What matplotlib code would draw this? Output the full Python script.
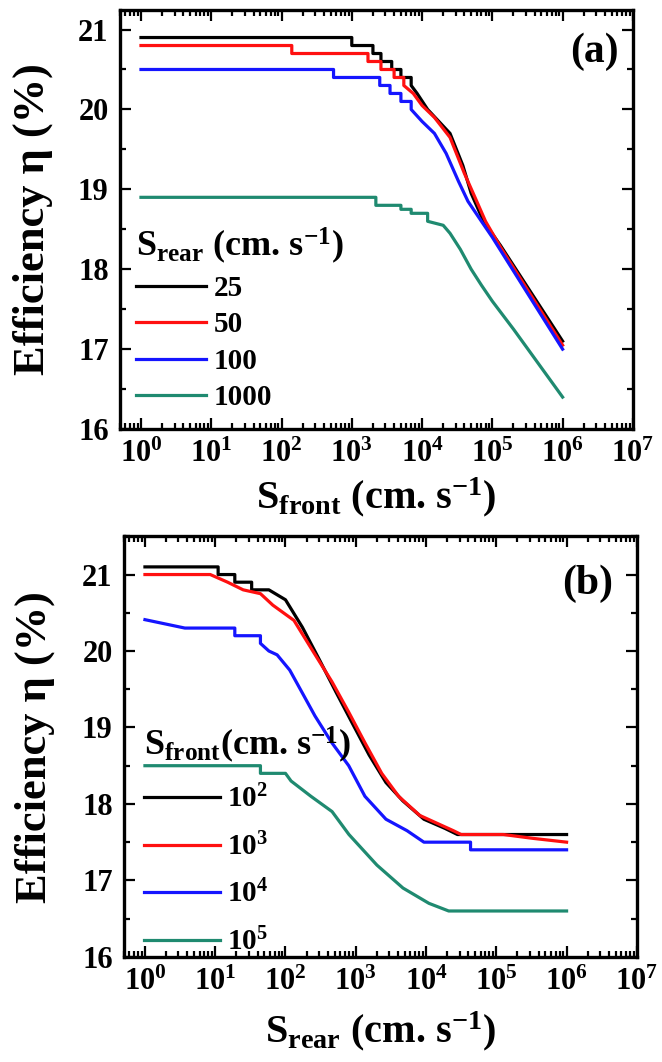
import matplotlib
matplotlib.use("Agg")
import matplotlib.pyplot as plt
from matplotlib.ticker import MultipleLocator, LogLocator, NullFormatter

plt.rcParams["font.family"] = "Liberation Serif"
plt.rcParams["font.weight"] = "bold"
plt.rcParams["mathtext.fontset"] = "custom"
plt.rcParams["mathtext.rm"] = "Liberation Serif:bold"
plt.rcParams["mathtext.bf"] = "Liberation Serif:bold"
plt.rcParams["mathtext.it"] = "Liberation Serif:italic:bold"

# ---- panel (a): efficiency vs S_front, for several S_rear ----
a_labels = ["25", "50", "100", "1000"]
a_x25 = [1, 1000, 1000, 2000, 2000, 2600, 2600, 3700, 3700, 5000, 5000, 7000, 7000,
         8500, 12000, 25000, 38000, 50000, 75000, 130000, 1000000]
a_y25 = [20.9, 20.9, 20.8, 20.8, 20.7, 20.7, 20.6, 20.6, 20.5, 20.5, 20.4, 20.4, 20.3,
         20.2, 20.0, 19.7, 19.3, 18.95, 18.6, 18.3, 17.1]
a_x50 = [1, 140, 140, 1700, 1700, 2600, 2600, 4000, 4000, 5500, 5500, 7500, 10000,
         15000, 25000, 40000, 60000, 80000, 130000, 1000000]
a_y50 = [20.8, 20.8, 20.7, 20.7, 20.6, 20.6, 20.5, 20.5, 20.4, 20.4, 20.3, 20.2, 20.05,
         19.9, 19.65, 19.2, 18.85, 18.6, 18.28, 17.05]
a_x100 = [1, 550, 550, 2500, 2500, 3500, 3500, 5000, 5000, 7000, 7000, 10000, 15000,
          22000, 33000, 45000, 70000, 100000, 1000000]
a_y100 = [20.5, 20.5, 20.4, 20.4, 20.3, 20.3, 20.2, 20.2, 20.1, 20.1, 20.0, 19.85, 19.7,
          19.45, 19.1, 18.85, 18.6, 18.4, 17.0]
a_x1000 = [1, 2200, 2200, 5000, 5000, 7000, 7000, 12000, 12000, 20000, 25000, 35000,
           50000, 70000, 100000, 200000, 1000000]
a_y1000 = [18.9, 18.9, 18.8, 18.8, 18.75, 18.75, 18.7, 18.7, 18.6, 18.55, 18.45, 18.25,
           18.0, 17.8, 17.6, 17.25, 16.4]

# ---- panel (b): efficiency vs S_rear, for several S_front ----
b_labels = [r"$\mathbf{10^{2}}$", r"$\mathbf{10^{3}}$", r"$\mathbf{10^{4}}$", r"$\mathbf{10^{5}}$"]
b_x2 = [1, 11, 11, 19, 19, 33, 33, 58, 100, 174, 302, 525, 912, 1550, 2690, 4680,
        9330, 18600, 28000, 1000000]
b_y2 = [21.1, 21.1, 21.0, 21.0, 20.9, 20.9, 20.8, 20.8, 20.67, 20.31, 19.89, 19.46,
        19.04, 18.64, 18.28, 18.04, 17.8, 17.68, 17.6, 17.6]
b_x3 = [1, 8.5, 15, 25, 44, 66, 132, 245, 457, 794, 1350, 2340, 4070, 8130, 14100,
        24500, 31600, 126000, 331000, 1000000]
b_y3 = [21.0, 21.0, 20.9, 20.8, 20.75, 20.6, 20.4, 20.0, 19.6, 19.2, 18.8, 18.4, 18.1,
        17.85, 17.75, 17.65, 17.6, 17.6, 17.55, 17.5]
b_x4 = [1, 3.7, 19, 19, 44, 44, 58, 76, 115, 174, 263, 457, 794, 1350, 2690, 5370,
        9330, 15100, 43000, 43000, 1000000]
b_y4 = [20.41, 20.3, 20.3, 20.2, 20.2, 20.1, 20.0, 19.95, 19.75, 19.45, 19.15, 18.8,
        18.5, 18.1, 17.8, 17.65, 17.5, 17.5, 17.5, 17.4, 17.4]
b_x5 = [1, 44, 44, 100, 120, 230, 460, 800, 2000, 4700, 11000, 21000, 1000000]
b_y5 = [18.5, 18.5, 18.4, 18.4, 18.3, 18.1, 17.9, 17.6, 17.2, 16.9, 16.7, 16.6, 16.6]

colors = ["#000000", "#ff1010", "#1515ff", "#1f8a70"]
xticks = [1e0, 1e1, 1e2, 1e3, 1e4, 1e5, 1e6, 1e7]
xticklabels = [r"$\mathbf{10^{%d}}$" % i for i in range(8)]

fig = plt.figure(figsize=(6.62, 10.62), dpi=100)
fig.patch.set_facecolor("white")
ax_a = fig.add_axes([0.181, 0.596, 0.775, 0.395])
ax_b = fig.add_axes([0.187, 0.099, 0.775, 0.396])


def style_axes(ax, ylim):
    ax.set_xscale("log")
    ax.set_xlim(0.5, 1e7)
    ax.set_ylim(*ylim)
    ax.set_xticks(xticks, labels=xticklabels)
    ax.xaxis.set_minor_locator(LogLocator(base=10, subs=range(2, 10), numticks=20))
    ax.xaxis.set_minor_formatter(NullFormatter())
    ax.set_yticks([16, 17, 18, 19, 20, 21])
    ax.yaxis.set_minor_locator(MultipleLocator(0.5))
    ax.tick_params(which="both", direction="in", top=True, right=True, labelsize=22, width=1.6)
    ax.tick_params(which="major", length=8, pad=8)
    ax.tick_params(which="minor", length=4)
    for sp in ax.spines.values():
        sp.set_linewidth(2.4)


# panel (a)
for xs, ys, c, lab in zip([a_x25, a_x50, a_x100, a_x1000], [a_y25, a_y50, a_y100, a_y1000],
                          colors, a_labels):
    ax_a.plot(xs, ys, color=c, lw=2.3, label=lab)
style_axes(ax_a, (16, 21.25))
ax_a.set_ylabel(r"Efficiency η (%)", fontsize=32, fontweight="bold")
ax_a.yaxis.set_label_coords(-0.13, 0.5)
ax_a.set_xlabel(r"$\mathbf{S_{front}}$ (cm. s$^{\mathbf{-1}}$)", fontsize=29, fontweight="bold")
ax_a.xaxis.set_label_coords(0.5, -0.11)
ax_a.text(0.925, 0.9, "(a)", transform=ax_a.transAxes, fontsize=30, fontweight="bold",
          ha="center", va="center")
leg_a = ax_a.legend(loc="upper left", bbox_to_anchor=(0.012, 0.51), frameon=False,
                    fontsize=21, title=r"$\mathbf{S_{rear}}$ (cm. s$^{\mathbf{-1}}$)",
                    title_fontsize=26, alignment="left", handlelength=2.4,
                    handletextpad=0.25, labelspacing=0.32, borderpad=0.35, borderaxespad=0)

# panel (b)
for xs, ys, c, lab in zip([b_x2, b_x3, b_x4, b_x5], [b_y2, b_y3, b_y4, b_y5], colors, b_labels):
    ax_b.plot(xs, ys, color=c, lw=2.3, label=lab)
style_axes(ax_b, (16, 21.5))
ax_b.set_ylabel(r"Efficiency η (%)", fontsize=32, fontweight="bold")
ax_b.yaxis.set_label_coords(-0.135, 0.5)
ax_b.set_xlabel(r"$\mathbf{S_{rear}}$ (cm. s$^{\mathbf{-1}}$)", fontsize=29, fontweight="bold")
ax_b.xaxis.set_label_coords(0.5, -0.125)
ax_b.text(0.905, 0.888, "(b)", transform=ax_b.transAxes, fontsize=30, fontweight="bold",
          ha="center", va="center")
leg_b = ax_b.legend(loc="upper left", bbox_to_anchor=(0.0, 0.6), frameon=False,
                    fontsize=21, title=r"$\mathbf{S_{front}}$(cm. s$^{\mathbf{-1}}$)",
                    title_fontsize=26, alignment="left", handlelength=2.6,
                    handletextpad=0.25, labelspacing=0.66, borderpad=0.7, borderaxespad=0)

fig.savefig("out.png", dpi=100)
